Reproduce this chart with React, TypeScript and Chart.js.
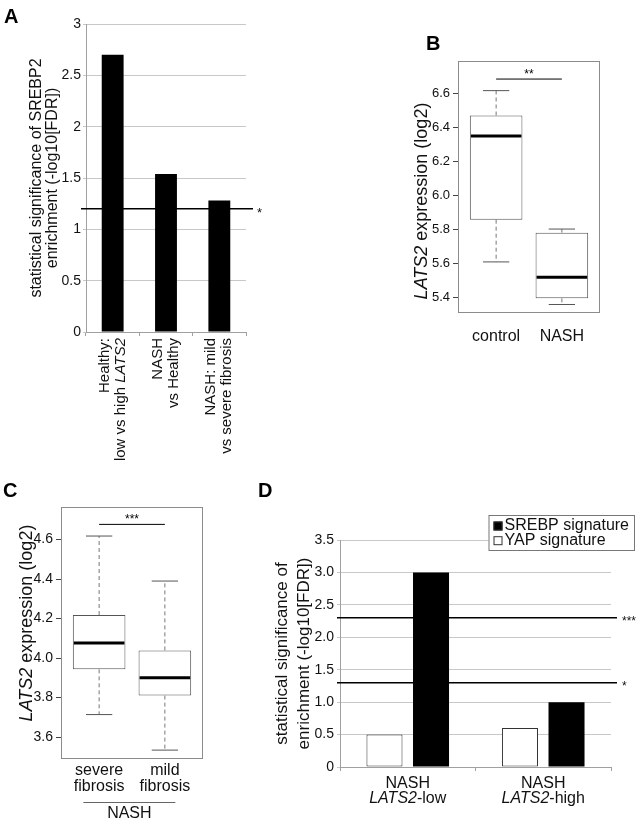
import React, { useEffect, useRef } from 'react';
import { Chart, registerables } from 'chart.js';

Chart.register(...registerables);

const FONT = '"Liberation Sans", Arial, Helvetica, sans-serif';
Chart.defaults.font.family = FONT;

// ---------- Panel A ----------
const A_CATEGORIES = ['Healthy:|low vs high _LATS2_', 'NASH|vs Healthy', 'NASH: mild|vs severe fibrosis'];
const A_VALUES = [2.7, 1.54, 1.28];
const A_THRESHOLDS = [1.2];
const A_THRESHOLD_LABELS = ['*'];
const A_Y_TITLE = ['statistical significance of SREBP2', 'enrichment (-log10[FDR])'];

// ---------- Panel B ----------
const B_CATEGORIES = ['control', 'NASH'];
const B_WHISKER_LOW = [5.61, 5.36];
const B_Q1 = [5.858, 5.396];
const B_MEDIAN = [6.35, 5.52];
const B_Q3 = [6.47, 5.782];
const B_WHISKER_HIGH = [6.616, 5.803];
const B_SIGNIF = [6.684];
const B_SIGNIF_LABELS = ['**'];
const B_Y_TITLE = '_LATS2_ expression (log2)';

// ---------- Panel C ----------
const C_CATEGORIES = ['severe|fibrosis', 'mild|fibrosis'];
const C_WHISKER_LOW = [3.714, 3.534];
const C_Q1 = [3.943, 3.81];
const C_MEDIAN = [4.076, 3.901];
const C_Q3 = [4.218, 4.039];
const C_WHISKER_HIGH = [4.618, 4.39];
const C_SIGNIF = [4.677];
const C_SIGNIF_LABELS = ['***'];
const C_GROUP = 'NASH';
const C_Y_TITLE = '_LATS2_ expression (log2)';

// ---------- Panel D ----------
const D_CATEGORIES = ['NASH|_LATS2_-low', 'NASH|_LATS2_-high'];
const D_SERIES = ['YAP signature', 'SREBP signature'];
const D_YAP = [0.5, 0.6];
const D_SREBP = [3.0, 1.0];
const D_THRESHOLDS = [2.3, 1.3];
const D_THRESHOLD_LABELS = ['***', '*'];
const D_Y_TITLE = ['statistical significance of', 'enrichment (-log10[FDR])'];

// ---------- helpers ----------
function segs(text: string) {
  return text
    .split('_')
    .map((t, i) => ({ t, it: i % 2 === 1 }))
    .filter((s) => s.t.length > 0);
}

function drawRich(
  ctx: CanvasRenderingContext2D,
  text: string,
  x: number,
  y: number,
  size: number,
  align: 'left' | 'center' | 'right',
  bold = false
) {
  const parts = segs(text);
  const fontFor = (it: boolean) => `${it ? 'italic ' : ''}${bold ? 'bold ' : ''}${size}px ${FONT}`;
  let total = 0;
  const widths = parts.map((p) => {
    ctx.font = fontFor(p.it);
    const w = ctx.measureText(p.t).width;
    total += w;
    return w;
  });
  let cx = align === 'left' ? x : align === 'center' ? x - total / 2 : x - total;
  ctx.textAlign = 'left';
  parts.forEach((p, i) => {
    ctx.font = fontFor(p.it);
    ctx.fillText(p.t, cx, y);
    cx += widths[i];
  });
}

function drawRotated(
  ctx: CanvasRenderingContext2D,
  text: string,
  x: number,
  y: number,
  size: number,
  align: 'left' | 'center' | 'right'
) {
  ctx.save();
  ctx.translate(x, y);
  ctx.rotate(-Math.PI / 2);
  ctx.textBaseline = 'middle';
  drawRich(ctx, text, 0, 0, size, align);
  ctx.restore();
}

function line(ctx: CanvasRenderingContext2D, x1: number, y1: number, x2: number, y2: number) {
  ctx.beginPath();
  ctx.moveTo(x1, y1);
  ctx.lineTo(x2, y2);
  ctx.stroke();
}

function letter(ctx: CanvasRenderingContext2D, t: string, x: number, y: number) {
  ctx.save();
  ctx.fillStyle = '#000';
  ctx.textBaseline = 'alphabetic';
  ctx.textAlign = 'left';
  ctx.font = `bold 20px ${FONT}`;
  ctx.fillText(t, x, y);
  ctx.restore();
}

// ---------- Panel A config ----------
function makeA(): any {
  const plugin = {
    id: 'aExtras',
    afterDraw(chart: any) {
      const { ctx, chartArea: a, scales } = chart;
      const x = scales.x;
      const y = scales.y;
      ctx.save();
      ctx.fillStyle = '#111';
      A_THRESHOLDS.forEach((v, i) => {
        const py = y.getPixelForValue(v);
        ctx.strokeStyle = '#000';
        ctx.lineWidth = 1.5;
        line(ctx, a.left - 5, py, a.right + 7, py);
        ctx.font = `13px ${FONT}`;
        ctx.textAlign = 'left';
        ctx.textBaseline = 'alphabetic';
        ctx.fillText(A_THRESHOLD_LABELS[i], a.right + 11, py + 8);
      });
      A_CATEGORIES.forEach((lab, i) => {
        const cx = x.getPixelForValue(i);
        const lines = lab.split('|');
        lines.forEach((ln, j) => {
          const off = (j - (lines.length - 1) / 2) * 16;
          drawRotated(ctx, ln, cx + off, a.bottom + 6, 15, 'right');
        });
      });
      const cy = (a.top + a.bottom) / 2;
      drawRotated(ctx, A_Y_TITLE[0], a.left - 49, cy, 16, 'center');
      drawRotated(ctx, A_Y_TITLE[1], a.left - 33, cy, 16, 'center');
      ctx.restore();
      letter(ctx, 'A', 4, 23);
    },
  };
  return {
    type: 'bar',
    data: {
      labels: A_CATEGORIES,
      datasets: [
        {
          data: A_VALUES,
          backgroundColor: '#000',
          borderWidth: 0,
          barPercentage: 0.41,
          categoryPercentage: 1,
        },
      ],
    },
    options: {
      responsive: false,
      animation: false,
      layout: { padding: { left: 0, top: 24, right: 24, bottom: 0 } },
      plugins: { legend: { display: false }, tooltip: { enabled: false } },
      scales: {
        x: {
          ticks: { display: false },
          grid: { drawOnChartArea: false, drawTicks: true, tickLength: 4, color: '#a0a0a0', offset: true },
          border: { color: '#a0a0a0' },
          afterFit: (s: any) => {
            s.height = 148;
          },
        },
        y: {
          min: 0,
          max: 3,
          ticks: {
            stepSize: 0.5,
            callback: (v: any) => String(Math.round(Number(v) * 10) / 10),
            font: { size: 14 },
            color: '#111',
            padding: 2,
          },
          grid: { color: '#c8c8c8', tickLength: 3 },
          border: { color: '#a0a0a0' },
          afterFit: (s: any) => {
            s.width = 86;
          },
        },
      },
    },
    plugins: [plugin],
  };
}

// ---------- Box plot config (B, C) ----------
interface BoxSpec {
  cats: string[];
  lo: number[];
  q1: number[];
  med: number[];
  q3: number[];
  hi: number[];
  sig: number[];
  sigLabels: string[];
  yMin: number;
  yMax: number;
  yTitle: string;
  top: number;
  right: number;
  yw: number;
  xh: number;
  tickSize: number;
  titleSize: number;
  titleDx: number;
  titleDy: number;
  labelDy: number;
  letter: string;
  letterX: number;
  letterY: number;
  group?: string;
}

function makeBox(p: BoxSpec): any {
  const plugin = {
    id: 'boxExtras',
    beforeDatasetsDraw(chart: any) {
      const { ctx, chartArea: a } = chart;
      ctx.save();
      ctx.strokeStyle = '#8c8c8c';
      ctx.lineWidth = 1;
      ctx.strokeRect(a.left + 0.5, a.top + 0.5, a.right - a.left - 1, a.bottom - a.top - 1);
      ctx.restore();
    },
    afterDatasetsDraw(chart: any) {
      const { ctx, scales } = chart;
      const y = scales.y;
      const x = scales.x;
      const meta = chart.getDatasetMeta(0);
      ctx.save();
      meta.data.forEach((bar: any, i: number) => {
        const cx = bar.x;
        const half = bar.width / 2;
        const pHi = y.getPixelForValue(p.hi[i]);
        const pLo = y.getPixelForValue(p.lo[i]);
        const pQ1 = y.getPixelForValue(p.q1[i]);
        const pQ3 = y.getPixelForValue(p.q3[i]);
        const pMed = y.getPixelForValue(p.med[i]);
        ctx.strokeStyle = '#777';
        ctx.lineWidth = 1;
        ctx.setLineDash([4, 3]);
        line(ctx, cx, pQ3, cx, pHi);
        line(ctx, cx, pQ1, cx, pLo);
        ctx.setLineDash([]);
        ctx.strokeStyle = '#555';
        line(ctx, cx - half / 2, pHi, cx + half / 2, pHi);
        line(ctx, cx - half / 2, pLo, cx + half / 2, pLo);
        ctx.strokeStyle = '#000';
        ctx.lineWidth = 3;
        line(ctx, cx - half + 1, pMed, cx + half - 1, pMed);
      });
      p.sig.forEach((v, i) => {
        const py = y.getPixelForValue(v);
        const x1 = x.getPixelForValue(1);
        const x2 = x.getPixelForValue(2);
        ctx.strokeStyle = '#000';
        ctx.lineWidth = 1;
        line(ctx, x1, py, x2, py);
        ctx.fillStyle = '#000';
        ctx.font = `12px ${FONT}`;
        ctx.textAlign = 'center';
        ctx.textBaseline = 'alphabetic';
        ctx.fillText(p.sigLabels[i], (x1 + x2) / 2, py - 1);
      });
      ctx.restore();
    },
    afterDraw(chart: any) {
      const { ctx, chartArea: a, scales } = chart;
      const x = scales.x;
      ctx.save();
      ctx.fillStyle = '#111';
      ctx.textBaseline = 'middle';
      p.cats.forEach((lab, i) => {
        const cx = x.getPixelForValue(i + 1);
        const lines = lab.split('|');
        lines.forEach((ln, j) => {
          const off = (j - (lines.length - 1) / 2) * 16;
          drawRich(ctx, ln, cx, a.bottom + p.labelDy + off, 16, 'center');
        });
      });
      if (p.group) {
        const gx1 = x.getPixelForValue(0.76);
        const gx2 = x.getPixelForValue(2.16);
        ctx.strokeStyle = '#666';
        ctx.lineWidth = 1;
        line(ctx, gx1, a.bottom + 43.5, gx2, a.bottom + 43.5);
        drawRich(ctx, p.group, (gx1 + gx2) / 2, a.bottom + 55, 16, 'center');
      }
      const cy = (a.top + a.bottom) / 2 + p.titleDy;
      drawRotated(ctx, p.yTitle, a.left - p.titleDx, cy, p.titleSize, 'center');
      ctx.restore();
      letter(ctx, p.letter, p.letterX, p.letterY);
    },
  };
  return {
    type: 'bar',
    data: {
      datasets: [
        {
          data: p.cats.map((_, i) => ({ x: i + 1, y: [p.q1[i], p.q3[i]] })),
          backgroundColor: '#fff',
          borderColor: '#555',
          borderWidth: 1,
          borderSkipped: false,
          barPercentage: 0.8,
          categoryPercentage: 1,
        },
      ],
    },
    options: {
      responsive: false,
      animation: false,
      layout: { padding: { left: 0, top: p.top, right: p.right, bottom: 0 } },
      plugins: { legend: { display: false }, tooltip: { enabled: false } },
      scales: {
        x: {
          type: 'linear',
          min: 0.42,
          max: 2.58,
          offset: false,
          ticks: { display: false, stepSize: 1, includeBounds: false },
          grid: { display: false, offset: false },
          border: { display: false },
          afterFit: (s: any) => {
            s.height = p.xh;
          },
        },
        y: {
          min: p.yMin,
          max: p.yMax,
          ticks: {
            stepSize: 0.2,
            includeBounds: false,
            callback: (v: any) => Number(v).toFixed(1),
            font: { size: p.tickSize },
            color: '#111',
            padding: 3,
          },
          grid: { drawOnChartArea: false, drawTicks: true, tickLength: 5, color: '#444' },
          border: { display: false },
          afterFit: (s: any) => {
            s.width = p.yw;
          },
        },
      },
    },
    plugins: [plugin],
  };
}

const makeB = () =>
  makeBox({
    cats: B_CATEGORIES,
    lo: B_WHISKER_LOW,
    q1: B_Q1,
    med: B_MEDIAN,
    q3: B_Q3,
    hi: B_WHISKER_HIGH,
    sig: B_SIGNIF,
    sigLabels: B_SIGNIF_LABELS,
    yMin: 5.31,
    yMax: 6.79,
    yTitle: B_Y_TITLE,
    top: 61,
    right: 43,
    yw: 78,
    xh: 47,
    tickSize: 13,
    titleSize: 18,
    titleDx: 36,
    titleDy: 14,
    labelDy: 24,
    letter: 'B',
    letterX: 46,
    letterY: 50,
  });

const makeC = () =>
  makeBox({
    cats: C_CATEGORIES,
    lo: C_WHISKER_LOW,
    q1: C_Q1,
    med: C_MEDIAN,
    q3: C_Q3,
    hi: C_WHISKER_HIGH,
    sig: C_SIGNIF,
    sigLabels: C_SIGNIF_LABELS,
    yMin: 3.489,
    yMax: 4.765,
    yTitle: C_Y_TITLE,
    top: 37,
    right: 57,
    yw: 61,
    xh: 63,
    tickSize: 14,
    titleSize: 18,
    titleDx: 34,
    titleDy: -10,
    labelDy: 20,
    letter: 'C',
    letterX: 3,
    letterY: 27,
    group: C_GROUP,
  });

// ---------- Panel D config ----------
function makeD(): any {
  const plugin = {
    id: 'dExtras',
    afterDraw(chart: any) {
      const { ctx, chartArea: a, scales } = chart;
      const x = scales.x;
      const y = scales.y;
      ctx.save();
      D_THRESHOLDS.forEach((v, i) => {
        const py = y.getPixelForValue(v);
        ctx.strokeStyle = '#000';
        ctx.lineWidth = 1.5;
        line(ctx, a.left - 3, py, a.right + 6, py);
        ctx.fillStyle = '#111';
        ctx.font = `12px ${FONT}`;
        ctx.textAlign = 'left';
        ctx.textBaseline = 'alphabetic';
        ctx.fillText(D_THRESHOLD_LABELS[i], a.right + 11, py + 7);
      });
      ctx.fillStyle = '#111';
      ctx.textBaseline = 'middle';
      D_CATEGORIES.forEach((lab, i) => {
        const cx = x.getPixelForValue(i);
        const lines = lab.split('|');
        lines.forEach((ln, j) => {
          drawRich(ctx, ln, cx, a.bottom + 17 + j * 15, 16, 'center');
        });
      });
      const cy = (a.top + a.bottom) / 2;
      drawRotated(ctx, D_Y_TITLE[0], a.left - 58, cy, 17, 'center');
      drawRotated(ctx, D_Y_TITLE[1], a.left - 36, cy, 17, 'center');
      const bx = a.right - 122.5;
      const by = a.top - 25;
      const bw = 145.5;
      const bh = 35;
      ctx.fillStyle = '#fff';
      ctx.fillRect(bx, by, bw, bh);
      ctx.strokeStyle = '#777';
      ctx.lineWidth = 1;
      ctx.strokeRect(bx + 0.5, by + 0.5, bw, bh);
      const order = chart.data.datasets.map((_: any, i: number) => i).reverse();
      order.forEach((di: number, row: number) => {
        const ds = chart.data.datasets[di];
        const ry = by + 11 + row * 14.7;
        ctx.fillStyle = ds.backgroundColor;
        ctx.fillRect(bx + 5, ry - 4.5, 9, 9);
        ctx.strokeStyle = '#333';
        ctx.strokeRect(bx + 5.5, ry - 4, 8, 8);
        ctx.fillStyle = '#111';
        ctx.textBaseline = 'middle';
        drawRich(ctx, ds.label, bx + 16, ry, 16, 'left');
      });
      ctx.restore();
      letter(ctx, 'D', 8, 27);
    },
  };
  return {
    type: 'bar',
    data: {
      labels: D_CATEGORIES,
      datasets: [
        {
          label: D_SERIES[0],
          data: D_YAP,
          backgroundColor: '#fff',
          borderColor: '#333',
          borderWidth: 1,
          borderSkipped: false,
          categoryPercentage: 0.687,
          barPercentage: 0.774,
        },
        {
          label: D_SERIES[1],
          data: D_SREBP,
          backgroundColor: '#000',
          borderWidth: 0,
          categoryPercentage: 0.687,
          barPercentage: 0.774,
        },
      ],
    },
    options: {
      responsive: false,
      animation: false,
      layout: { padding: { left: 0, top: 70, right: 32, bottom: 0 } },
      plugins: { legend: { display: false }, tooltip: { enabled: false } },
      scales: {
        x: {
          ticks: { display: false },
          grid: { drawOnChartArea: false, drawTicks: true, tickLength: 4, color: '#a0a0a0', offset: true },
          border: { color: '#a0a0a0' },
          afterFit: (s: any) => {
            s.height = 55;
          },
        },
        y: {
          min: 0,
          max: 3.5,
          ticks: {
            stepSize: 0.5,
            callback: (v: any) => (Number(v) === 0 ? '0' : Number(v).toFixed(1)),
            font: { size: 14 },
            color: '#111',
            padding: 3,
          },
          grid: { color: '#c8c8c8', tickLength: 3 },
          border: { color: '#a0a0a0' },
          afterFit: (s: any) => {
            s.width = 90;
          },
        },
      },
    },
    plugins: [plugin],
  };
}

function ChartCanvas(props: { left: number; top: number; width: number; height: number; make: () => any }) {
  const ref = useRef<HTMLCanvasElement>(null);
  useEffect(() => {
    const chart = new Chart(ref.current as HTMLCanvasElement, props.make());
    return () => chart.destroy();
  }, []);
  return (
    <canvas
      ref={ref}
      width={props.width}
      height={props.height}
      style={{ position: 'absolute', left: props.left, top: props.top, width: props.width, height: props.height }}
    />
  );
}

export default function App() {
  return (
    <div style={{ position: 'absolute', left: 0, top: 0, width: 643, height: 822, background: '#fff', overflow: 'hidden' }}>
      <ChartCanvas left={0} top={0} width={270} height={480} make={makeA} />
      <ChartCanvas left={380} top={0} width={263} height={360} make={makeB} />
      <ChartCanvas left={0} top={470} width={260} height={352} make={makeC} />
      <ChartCanvas left={250} top={470} width={393} height={352} make={makeD} />
    </div>
  );
}
